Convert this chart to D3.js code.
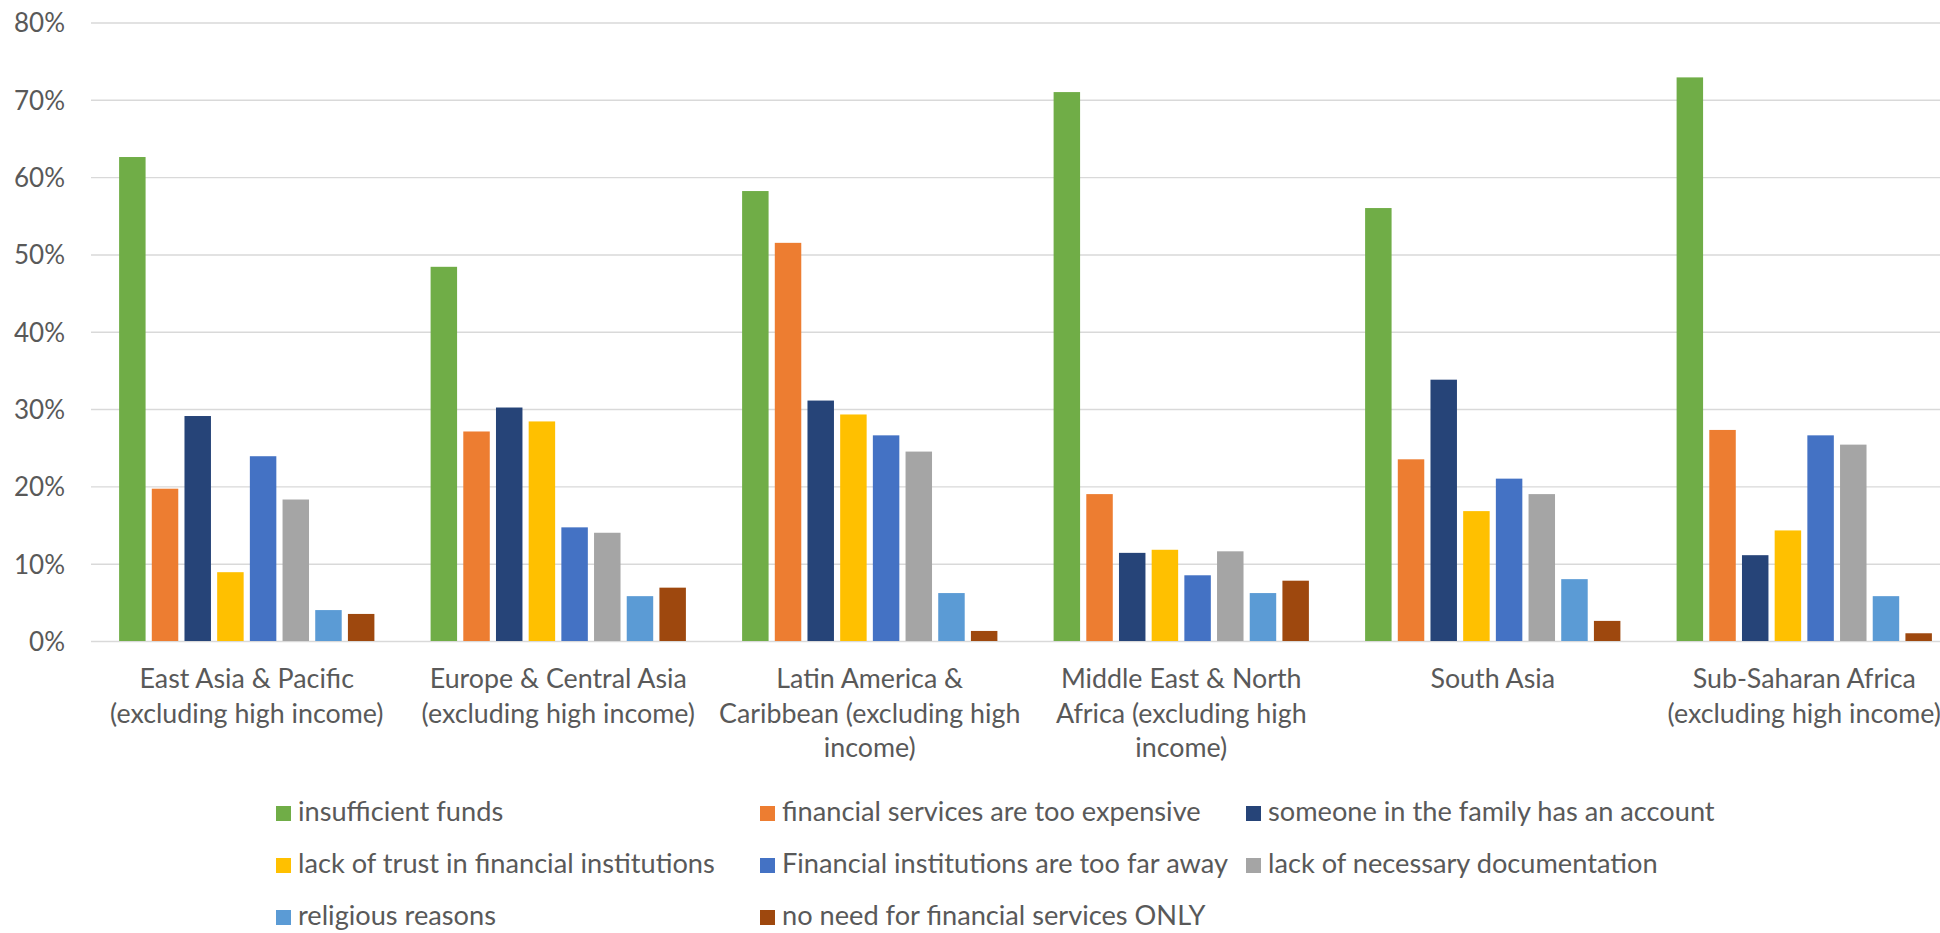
<!DOCTYPE html>
<html>
<head>
<meta charset="utf-8">
<script src="https://cdn.jsdelivr.net/npm/d3@7"></script>
<style>
  html, body { margin: 0; padding: 0; background: #fff; }
  svg { display: block; }
  text { font-family: Lato, "Open Sans", sans-serif; fill: #595959; }
</style>
</head>
<body>
<svg id="chart" width="1940" height="933"></svg>
<script>
// Regions (line breaks mark how each axis label wraps)
const categories = [
  "East Asia & Pacific\n(excluding high income)",
  "Europe & Central Asia\n(excluding high income)",
  "Latin America &\nCaribbean (excluding high\nincome)",
  "Middle East & North\nAfrica (excluding high\nincome)",
  "South Asia",
  "Sub-Saharan Africa\n(excluding high income)"
];

// Reasons for not having an account
const seriesNames = [
  "insufficient funds",
  "financial services are too expensive",
  "someone in the family has an account",
  "lack of trust in financial institutions",
  "Financial institutions are too far away",
  "lack of necessary documentation",
  "religious reasons",
  "no need for financial services ONLY"
];

const seriesColors = ["#70AD47", "#ED7D31", "#264478", "#FFC000", "#4472C4", "#A5A5A5", "#5B9BD5", "#9E480E"];

// Share of adults citing each reason, per region (same order as categories)
const insufficientFunds   = [0.626, 0.484, 0.582, 0.710, 0.560, 0.729];
const tooExpensive        = [0.197, 0.271, 0.515, 0.190, 0.235, 0.273];
const familyHasAccount    = [0.291, 0.302, 0.311, 0.114, 0.338, 0.111];
const lackOfTrust         = [0.089, 0.284, 0.293, 0.118, 0.168, 0.143];
const tooFarAway          = [0.239, 0.147, 0.266, 0.085, 0.210, 0.266];
const lackOfDocumentation = [0.183, 0.140, 0.245, 0.116, 0.190, 0.254];
const religiousReasons    = [0.040, 0.058, 0.062, 0.062, 0.080, 0.058];
const noNeedOnly          = [0.035, 0.069, 0.013, 0.078, 0.026, 0.010];

const seriesValues = [
  insufficientFunds, tooExpensive, familyHasAccount, lackOfTrust,
  tooFarAway, lackOfDocumentation, religiousReasons, noNeedOnly
];

const yTicks = [0, 0.1, 0.2, 0.3, 0.4, 0.5, 0.6, 0.7, 0.8];

const svg = d3.select("#chart");

const plot = { left: 91, right: 1960, top: 22.5, bottom: 641 };

const x0 = d3.scaleBand()
  .domain(categories)
  .range([plot.left, plot.right])
  .paddingInner(0)
  .paddingOuter(0);

const groupPad = 25;
const x1 = d3.scaleBand()
  .domain(seriesNames)
  .range([groupPad, x0.bandwidth() - groupPad])
  .paddingInner(0.19)
  .paddingOuter(0.095);

const y = d3.scaleLinear()
  .domain([0, 0.8])
  .range([plot.bottom, plot.top]);

const color = d3.scaleOrdinal().domain(seriesNames).range(seriesColors);

// Horizontal gridlines and percentage ticks
const yAxis = d3.axisLeft(y)
  .tickValues(yTicks)
  .tickSize(-(plot.right - plot.left))
  .tickPadding(26)
  .tickFormat(d3.format(".0%"));

const gy = svg.append("g")
  .attr("transform", `translate(${plot.left},0)`)
  .call(yAxis);
gy.select(".domain").remove();
gy.selectAll(".tick line").attr("stroke", "#D9D9D9").attr("stroke-width", 1.4);
gy.selectAll(".tick text")
  .attr("fill", "#595959")
  .style("font-size", "26px")
  .attr("dy", "0.36em");

// Bars
const groups = svg.append("g")
  .selectAll("g")
  .data(categories)
  .join("g")
  .attr("transform", d => `translate(${x0(d)},0)`);

groups.selectAll("rect")
  .data((cat, ci) => seriesNames.map((s, si) => ({ s, v: seriesValues[si][ci] })))
  .join("rect")
  .attr("x", d => x1(d.s))
  .attr("width", x1.bandwidth())
  .attr("y", d => y(d.v))
  .attr("height", d => y(0) - y(d.v))
  .attr("fill", d => color(d.s));

// Category axis labels
const xLabels = svg.append("g")
  .selectAll("text")
  .data(categories)
  .join("text")
  .attr("text-anchor", "middle")
  .attr("x", d => x0(d) + x0.bandwidth() / 2)
  .attr("y", 688)
  .style("font-size", "26.8px");

xLabels.selectAll("tspan")
  .data(d => d.split("\n"))
  .join("tspan")
  .attr("x", function () { return d3.select(this.parentNode).attr("x"); })
  .attr("dy", (d, i) => i === 0 ? 0 : 34.5)
  .text(d => d);

// Legend: three columns, row-major
const legendCols = [276, 760, 1246];
const legendRows = [821, 873, 925];
const legend = svg.append("g")
  .selectAll("g")
  .data(seriesNames)
  .join("g")
  .attr("transform", (d, i) => `translate(${legendCols[i % 3]},${legendRows[Math.floor(i / 3)]})`);

legend.append("rect")
  .attr("x", 0)
  .attr("y", -15)
  .attr("width", 15)
  .attr("height", 15)
  .attr("fill", d => color(d));

legend.append("text")
  .attr("x", 22)
  .attr("y", 0)
  .style("font-size", "27.2px")
  .text(d => d);
</script>
</body>
</html>
